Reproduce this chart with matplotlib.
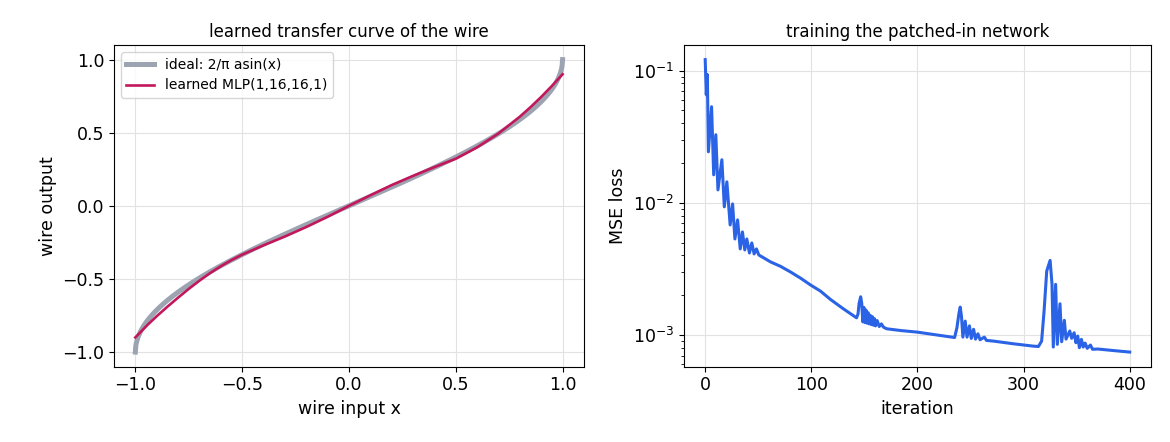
import matplotlib
matplotlib.use("Agg")
import matplotlib.pyplot as plt
import numpy as np

# left panel: learned MLP samples
mlp_x = [-1.0, -0.97, -0.94, -0.9, -0.85, -0.8, -0.75, -0.7, -0.65, -0.6, -0.55, -0.5, -0.4,
         -0.3, -0.2, -0.1, 0.0, 0.1, 0.2, 0.3, 0.4, 0.5, 0.6, 0.7, 0.8, 0.85, 0.9, 0.95, 1.0]
mlp_y = [-0.90, -0.855, -0.81, -0.755, -0.69, -0.628, -0.568, -0.512, -0.46, -0.413, -0.371,
         -0.334, -0.27, -0.21, -0.145, -0.075, 0.0, 0.072, 0.142, 0.205, 0.265, 0.322, 0.40,
         0.495, 0.61, 0.675, 0.745, 0.82, 0.90]

# right panel: training loss, (iteration, log10 loss)
loss_iter = [0, 1, 2, 3, 6, 8, 10, 12, 15.7, 18, 20.4, 23.5, 25.8, 28, 30.5, 33, 35.1, 37.3,
             39.2, 41.7, 43.9, 46.1, 48.3, 50.5, 61.7, 71, 80.5, 90, 99.3, 108.6, 118, 130,
             142.6, 144, 145, 146.5, 147.5, 148.5, 149.5, 150.5, 151.5, 152.5, 153.5, 154.5,
             155.5, 156.5, 157.5, 158.5, 159.5, 160.5, 162, 164, 166, 168, 171, 185, 199.6, 215,
             235, 237.2, 239, 240.3, 241.5, 242.8, 245, 246.7, 249, 250.7, 252.9, 254.7, 257,
             259, 263, 265, 271.6, 290, 309, 314, 317, 319.3, 321.8, 325, 326.8, 328, 330.2,
             331.8, 334.3, 335.9, 338.4, 340, 343.5, 345.3, 347.6, 349.3, 351, 352.6, 354.5,
             356.2, 358, 360, 363, 365, 370, 380, 393, 400]
loss_log = [-0.917, -1.182, -1.030, -1.614, -1.273, -1.788, -1.485, -1.902, -1.674, -2.030,
            -1.841, -2.167, -2.008, -2.273, -2.129, -2.348, -2.220, -2.356, -2.273, -2.379,
            -2.303, -2.386, -2.348, -2.394, -2.447, -2.48, -2.523, -2.57, -2.621, -2.667,
            -2.73, -2.80, -2.869, -2.84, -2.76, -2.71, -2.76, -2.90, -2.79, -2.905, -2.81,
            -2.91, -2.83, -2.915, -2.85, -2.92, -2.86, -2.925, -2.875, -2.93, -2.89, -2.935,
            -2.915, -2.94, -2.952, -2.966, -2.977, -2.995, -3.018, -2.944, -2.84, -2.788,
            -2.86, -3.015, -2.894, -3.015, -2.93, -3.025, -2.956, -3.03, -2.99, -3.035,
            -3.015, -3.04, -3.045, -3.065, -3.083, -3.086, -3.045, -2.82, -2.516, -2.435,
            -2.616, -3.09, -2.616, -3.07, -2.763, -3.05, -2.888, -3.03, -2.969, -3.024,
            -2.982, -3.057, -3.007, -3.095, -3.032, -3.09, -3.06, -3.10, -3.075, -3.107,
            -3.105, -3.113, -3.123, -3.128]

xs = np.linspace(-1, 1, 801)

fig = plt.figure(figsize=(11.7, 4.42), dpi=100)
ax1 = fig.add_axes([0.0974, 0.1704, 0.4017, 0.7278])
ax2 = fig.add_axes([0.5846, 0.1704, 0.3991, 0.7278])

ax1.plot(xs, 2 / np.pi * np.arcsin(xs), color='#9ca3b1', lw=3.6, label='ideal: 2/π asin(x)')
ax1.plot(mlp_x, mlp_y, color='#c2185b', lw=1.9, label='learned MLP(1,16,16,1)')
ax1.set_title('learned transfer curve of the wire', fontsize=12)
ax1.set_xlabel('wire input x', fontsize=12.5)
ax1.set_ylabel('wire output', fontsize=12.5)
ax1.set_xticks([-1.0, -0.5, 0.0, 0.5, 1.0])
ax1.set_yticks([-1.0, -0.5, 0.0, 0.5, 1.0])
ax1.grid(True, color='#e2e2e2', lw=0.8)
ax1.legend(loc='upper left', fontsize=10)

ax2.semilogy(loss_iter, 10.0 ** np.array(loss_log), color='#2b63e6', lw=2.2)
ax2.set_title('training the patched-in network', fontsize=12)
ax2.set_xlabel('iteration', fontsize=12.5)
ax2.set_ylabel('MSE loss', fontsize=12.5)
ax2.set_xticks([0, 100, 200, 300, 400])
ax2.grid(True, color='#e2e2e2', lw=0.8)

for ax in (ax1, ax2):
    ax.tick_params(labelsize=12.5)

fig.savefig('out.png', dpi=100)
